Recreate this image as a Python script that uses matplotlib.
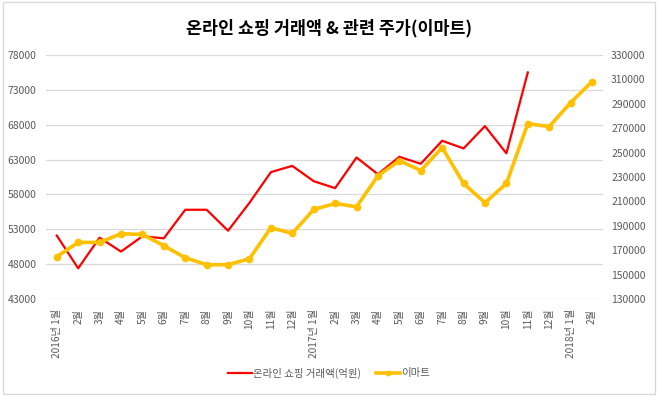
import matplotlib
matplotlib.use("Agg")
import matplotlib.pyplot as plt
from matplotlib.patches import Rectangle

plt.rcParams["font.family"] = ["Noto Sans CJK KR", "DejaVu Sans"]

# 월별 라벨 (2016년 1월 ~ 2018년 2월)
months = ["2016년 1월", "2월", "3월", "4월", "5월", "6월", "7월", "8월", "9월", "10월", "11월", "12월",
          "2017년 1월", "2월", "3월", "4월", "5월", "6월", "7월", "8월", "9월", "10월", "11월", "12월",
          "2018년 1월", "2월"]

# 온라인 쇼핑 거래액(억원) - 2017년 11월까지
online = [52100, 47400, 51800, 49800, 52000, 51700, 55800, 55800, 52800, 56800, 61200, 62100,
          59900, 58900, 63300, 60900, 63400, 62400, 65700, 64600, 67800, 63900, 75500]

# 이마트 주가
emart = [164700, 176400, 176400, 183500, 182900, 173700, 163800, 158100, 158100, 163000, 188400, 183800,
         203400, 208300, 205600, 231000, 243500, 235300, 254100, 224700, 208900, 224700, 273800, 271300,
         291000, 308200]

fig = plt.figure(figsize=(6.58, 3.96), dpi=100)
ax = fig.add_axes([0.070, 0.245, 0.846, 0.616])
ax2 = ax.twinx()

x = list(range(len(months)))
grey = "#595959"

l1, = ax.plot(x[:len(online)], online, color="#FF0000", lw=1.6, zorder=3)
l2, = ax2.plot(x, emart, color="#FFC000", lw=2.6, marker="o", ms=4.5, zorder=3)

ax.set_xlim(-0.5, len(months) - 0.5)
ax.set_ylim(43000, 78000)
ax.set_yticks(range(43000, 78001, 5000))
ax2.set_ylim(130000, 330000)
ax2.set_yticks(range(130000, 330001, 20000))

ax.set_xticks(x)
ax.set_xticklabels(months, rotation=90, fontsize=7.3)
ax.tick_params(axis="x", length=0, colors=grey, pad=7)
ax.tick_params(axis="y", length=0, colors=grey, labelsize=7.5, pad=7)
ax2.tick_params(axis="y", length=0, colors=grey, labelsize=7.5, pad=6)

ax.grid(axis="y", color="#D9D9D9", lw=0.9)
ax.set_axisbelow(True)
for a in (ax, ax2):
    for s in a.spines.values():
        s.set_visible(False)

fig.suptitle("온라인 쇼핑 거래액 & 관련 주가(이마트)", y=0.928, va="center", fontsize=12.5, fontweight="bold")

fig.legend([l1, l2], ["온라인 쇼핑 거래액(억원)", "이마트"], loc="center", bbox_to_anchor=(0.5, 0.058),
           ncol=2, frameon=False, fontsize=7.5, labelcolor=grey, handlelength=2.3, handletextpad=0.1,
           columnspacing=1.4, markerscale=0.7)

fig.patches.append(Rectangle((0.004, 0.004), 0.992, 0.992, transform=fig.transFigure,
                             fill=False, edgecolor="#D9D9D9", lw=1))

fig.savefig("out.png", dpi=100)
